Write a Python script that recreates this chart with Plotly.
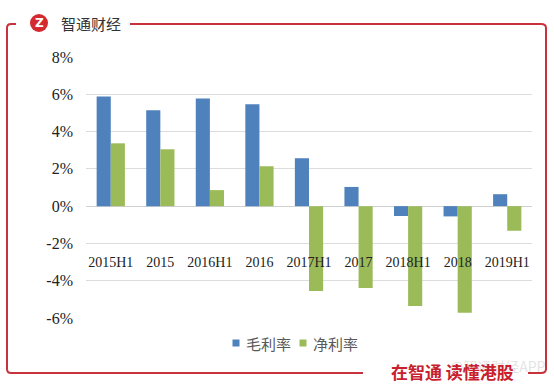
import plotly.graph_objects as go

categories = ["2015H1", "2015", "2016H1", "2016", "2017H1", "2017", "2018H1", "2018", "2019H1"]
gross_margin = [5.88, 5.14, 5.78, 5.46, 2.57, 1.03, -0.53, -0.55, 0.64]
net_margin = [3.37, 3.05, 0.86, 2.14, -4.55, -4.39, -5.35, -5.72, -1.32]
series_names = ["毛利率", "净利率"]
series_colors = ["#4f81bd", "#9bbb59"]
y_ticks = [-6, -4, -2, 0, 2, 4, 6, 8]

W, H = 554, 387
L, R, T, B = 86, 22, 57, 69
PW, PH = W - L - R, H - T - B

def px(x):
    return (x - L) / PW

def py(y):
    return (H - B - y) / PH

fig = go.Figure()
fig.add_trace(go.Bar(x=categories, y=gross_margin, name=series_names[0],
                     marker=dict(color=series_colors[0], line=dict(width=0))))
fig.add_trace(go.Bar(x=categories, y=net_margin, name=series_names[1],
                     marker=dict(color=series_colors[1], line=dict(width=0))))

red = "#c8323c"
left_path = (f"M {px(16)},{py(24)} L {px(11)},{py(24)} Q {px(7)},{py(24)} {px(7)},{py(28)} "
             f"L {px(7)},{py(369)} Q {px(7)},{py(373)} {px(11)},{py(373)} L {px(363)},{py(373)}")
right_path = (f"M {px(130)},{py(24)} L {px(541)},{py(24)} Q {px(546)},{py(24)} {px(546)},{py(28)} "
              f"L {px(546)},{py(369)} Q {px(546)},{py(373)} {px(541)},{py(373)} L {px(528)},{py(373)}")

shapes = [
    dict(type="path", path=left_path, xref="paper", yref="paper", line=dict(color=red, width=2)),
    dict(type="path", path=right_path, xref="paper", yref="paper", line=dict(color=red, width=2)),
    dict(type="circle", xref="paper", yref="paper", x0=px(30), x1=px(48), y0=py(14), y1=py(32),
         fillcolor="#d42a2f", line=dict(width=0)),
]

annotations = [
    dict(text="<b>Z</b>", x=px(39), y=py(23), xref="paper", yref="paper", showarrow=False,
         font=dict(family="DejaVu Sans", size=12, color="white"), xanchor="center", yanchor="middle"),
    dict(text="智通财经", x=px(59), y=py(23), xref="paper", yref="paper", showarrow=False,
         font=dict(family="Noto Sans CJK SC", size=15, color="#333333"), xanchor="left", yanchor="middle"),
    dict(text="@智通财经APP", x=px(498), y=py(366), xref="paper", yref="paper", showarrow=False,
         font=dict(family="Noto Sans CJK SC", size=14, color="rgba(200,200,200,0.5)"),
         xanchor="center", yanchor="middle"),
    dict(text="<b>在智通 读懂港股</b>", x=px(452), y=py(371), xref="paper", yref="paper", showarrow=False,
         font=dict(family="Noto Sans CJK SC", size=17, color="#c8202c"), xanchor="center", yanchor="middle"),
]

# custom legend (small squares + labels)
legend_x = [236, 303]
for name, color, lx in zip(series_names, series_colors, legend_x):
    shapes.append(dict(type="rect", xref="paper", yref="paper",
                       x0=px(lx - 3.5), x1=px(lx + 3.5), y0=py(346.5), y1=py(339.5),
                       fillcolor=color, line=dict(width=0)))
    annotations.append(dict(text=name, x=px(lx + 8), y=py(343), xref="paper", yref="paper",
                            showarrow=False, xanchor="left", yanchor="middle",
                            font=dict(family="Noto Sans CJK SC", size=15, color="#595959")))

fig.update_layout(
    width=W, height=H,
    margin=dict(l=L, r=R, t=T, b=B),
    paper_bgcolor="white", plot_bgcolor="white",
    barmode="group", bargap=0.43, bargroupgap=0,
    showlegend=False,
    shapes=shapes, annotations=annotations,
    xaxis=dict(anchor="free", position=py(252), showline=False, ticks="", showgrid=False,
               tickfont=dict(family="Liberation Serif", size=14, color="#222222")),
    yaxis=dict(range=[-6, 8], tickvals=y_ticks, ticktext=[f"{v}%" for v in y_ticks],
               showgrid=True, gridcolor="#dcdcdc", gridwidth=1,
               zeroline=True, zerolinecolor="#d0d0d0", zerolinewidth=1,
               showline=False, ticks="", ticklabelstandoff=12,
               tickfont=dict(family="Liberation Serif", size=16, color="#222222")),
)

fig.write_html("out.html", config={"displayModeBar": False},
               post_script="document.body.style.margin='0';document.body.style.padding='0';")
